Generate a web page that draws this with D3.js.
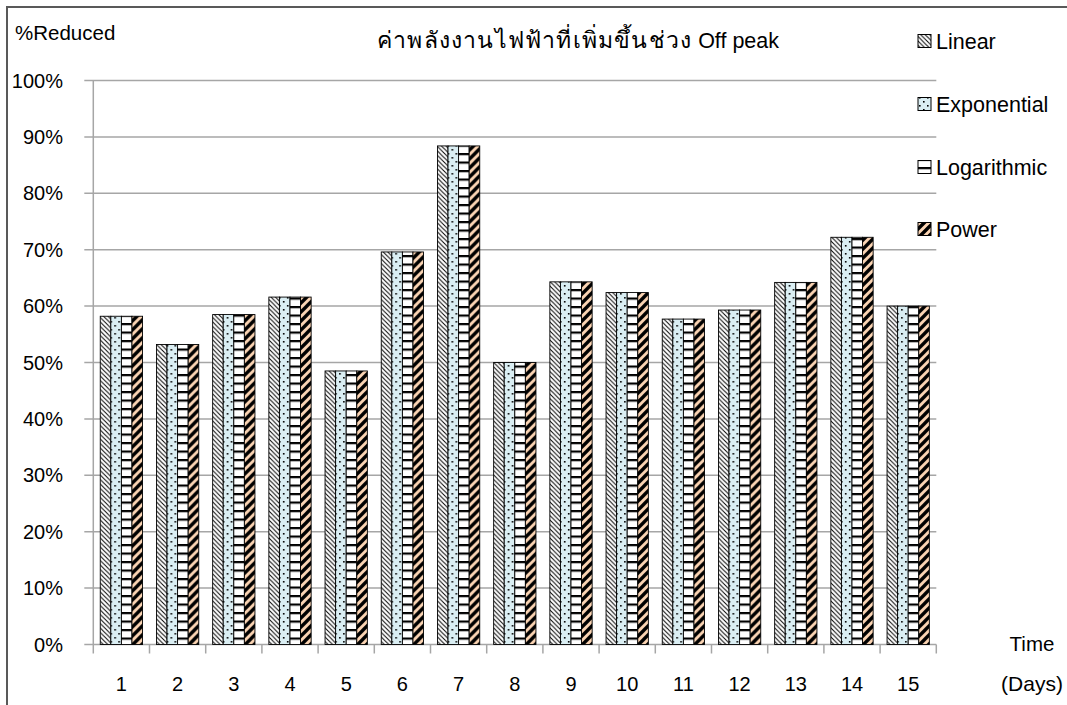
<!DOCTYPE html>
<html>
<head>
<meta charset="utf-8">
<script src="https://cdn.jsdelivr.net/npm/d3@7"></script>
<style>
html,body{margin:0;padding:0;background:#fff;}
svg{display:block;}
text{font-family:"Liberation Sans",Arial,"Noto Sans","DejaVu Sans",sans-serif;fill:#000;}
</style>
</head>
<body>
<svg id="chart" width="1067" height="705"></svg>
<script>
const categories = ["1","2","3","4","5","6","7","8","9","10","11","12","13","14","15"];
const seriesNames = ["Linear","Exponential","Logarithmic","Power"];
const linear      = [58.2,53.2,58.5,61.6,48.5,69.6,88.4,50.0,64.3,62.4,57.7,59.3,64.2,72.2,60.0];
const exponential = [58.2,53.2,58.5,61.6,48.5,69.6,88.4,50.0,64.3,62.4,57.7,59.3,64.2,72.2,60.0];
const logarithmic = [58.2,53.2,58.5,61.6,48.5,69.6,88.4,50.0,64.3,62.4,57.7,59.3,64.2,72.2,60.0];
const power       = [58.2,53.2,58.5,61.6,48.5,69.6,88.4,50.0,64.3,62.4,57.7,59.3,64.2,72.2,60.0];
const yTicks = [0,10,20,30,40,50,60,70,80,90,100];
const titleThai = "ค่าพลังงานไฟฟ้าที่เพิ่มขึ้นช่วง";
const titleLatin = " Off peak";
const yLabel = "%Reduced";
const xLabel1 = "Time", xLabel2 = "(Days)";

const seriesValues = [linear, exponential, logarithmic, power];
const patternIds = ["pLinear","pExp","pLog","pPow"];

const svg = d3.select("#chart");
const defs = svg.append("defs");

const p1 = defs.append("pattern").attr("id","pLinear").attr("patternUnits","userSpaceOnUse").attr("width",4.5).attr("height",4.5);
p1.append("rect").attr("width",4.5).attr("height",4.5).attr("fill","#fff");
p1.append("path").attr("d","M-1,-1L5.5,5.5M-1,3.5L1,5.5M3.5,-1L5.5,1").attr("stroke","#000").attr("stroke-width",1);

const p2 = defs.append("pattern").attr("id","pExp").attr("patternUnits","userSpaceOnUse").attr("width",8).attr("height",8);
p2.append("rect").attr("width",8).attr("height",8).attr("fill","#DAEEF3");
p2.append("rect").attr("x",1).attr("y",1).attr("width",1.6).attr("height",1.6).attr("fill","#000");
p2.append("rect").attr("x",5).attr("y",5).attr("width",1.6).attr("height",1.6).attr("fill","#000");

const p3 = defs.append("pattern").attr("id","pLog").attr("patternUnits","userSpaceOnUse").attr("width",8).attr("height",8.5);
p3.append("rect").attr("width",8).attr("height",8.5).attr("fill","#fff");
p3.append("rect").attr("x",0).attr("y",0).attr("width",8).attr("height",2.2).attr("fill","#000");

const p4 = defs.append("pattern").attr("id","pPow").attr("patternUnits","userSpaceOnUse").attr("width",9).attr("height",9);
p4.append("rect").attr("width",9).attr("height",9).attr("fill","#FCD5B4");
p4.append("path").attr("d","M-2,11L11,-2M-2,2L2,-2M7,11L11,7").attr("stroke","#000").attr("stroke-width",3.4);

svg.append("path").attr("d","M7,705V7H1067").attr("fill","none").attr("stroke","#595959").attr("stroke-width",2);

const x0 = 93.3, x1 = 936.3, yTop = 80.5, yBot = 644.5;
const x = d3.scaleBand().domain(categories).range([x0,x1]).paddingInner(0).paddingOuter(0);
const grpPad = (x.bandwidth()-42.3)/2;
const inner = d3.scaleBand().domain(seriesNames).range([grpPad, x.bandwidth()-grpPad]).padding(0);
const y = d3.scaleLinear().domain([0,100]).range([yBot,yTop]);

const gridColor = "#A6A6A6";
svg.append("g").selectAll("line").data(yTicks).join("line")
  .attr("x1",x0-9).attr("x2",x1).attr("y1",d=>y(d)).attr("y2",d=>y(d))
  .attr("stroke",gridColor).attr("stroke-width",1.5);

svg.append("line").attr("x1",x0).attr("x2",x0).attr("y1",yTop).attr("y2",yBot)
  .attr("stroke",gridColor).attr("stroke-width",1.5);

const bounds = categories.map(c=>x(c)).concat([x1]);
svg.append("g").selectAll("line").data(bounds).join("line")
  .attr("x1",d=>d).attr("x2",d=>d).attr("y1",yBot).attr("y2",yBot+9)
  .attr("stroke",gridColor).attr("stroke-width",1.5);

const groups = svg.append("g").selectAll("g").data(categories).join("g")
  .attr("transform",c=>`translate(${x(c)},0)`);
groups.selectAll("rect").data((c,i)=>seriesNames.map((s,j)=>({s,j,v:seriesValues[j][i]}))).join("rect")
  .attr("x",d=>inner(d.s)).attr("width",inner.bandwidth())
  .attr("y",d=>y(d.v)).attr("height",d=>yBot-y(d.v))
  .attr("fill",d=>`url(#${patternIds[d.j]})`)
  .attr("stroke","#000").attr("stroke-width",0.9);

const fs = "20px";
svg.append("g").selectAll("text").data(yTicks).join("text")
  .attr("x",63).attr("y",d=>y(d)).attr("dy","0.35em").attr("text-anchor","end")
  .style("font-size",fs).text(d=>d+"%");

svg.append("g").selectAll("text").data(categories).join("text")
  .attr("x",c=>x(c)+x.bandwidth()/2).attr("y",691).attr("text-anchor","middle")
  .style("font-size",fs).text(c=>c);

svg.append("text").attr("x",15).attr("y",40).style("font-size","20.5px").text(yLabel);
svg.append("text").attr("x",1032).attr("y",651).attr("text-anchor","middle").style("font-size","20.5px").text(xLabel1);
svg.append("text").attr("x",1032).attr("y",691).attr("text-anchor","middle").style("font-size","21px").text(xLabel2);

const t = svg.append("text").attr("x",578).attr("y",48).attr("text-anchor","middle");
t.append("tspan").style("font-size","23px").style("letter-spacing","1.2px").text(titleThai);
t.append("tspan").style("font-size","21.5px").text(titleLatin);

const legendY = [41,104,167,229];
const lg = svg.append("g").selectAll("g").data(seriesNames).join("g")
  .attr("transform",(d,i)=>`translate(918,${legendY[i]})`);
lg.append("rect").attr("x",0).attr("y",-6.5).attr("width",13).attr("height",13)
  .attr("fill",(d,i)=>`url(#${patternIds[i]})`).attr("stroke","#000").attr("stroke-width",1);
lg.append("text").attr("x",18).attr("y",0).attr("dy","0.35em").style("font-size","21.5px").text(d=>d);
</script>
</body>
</html>
